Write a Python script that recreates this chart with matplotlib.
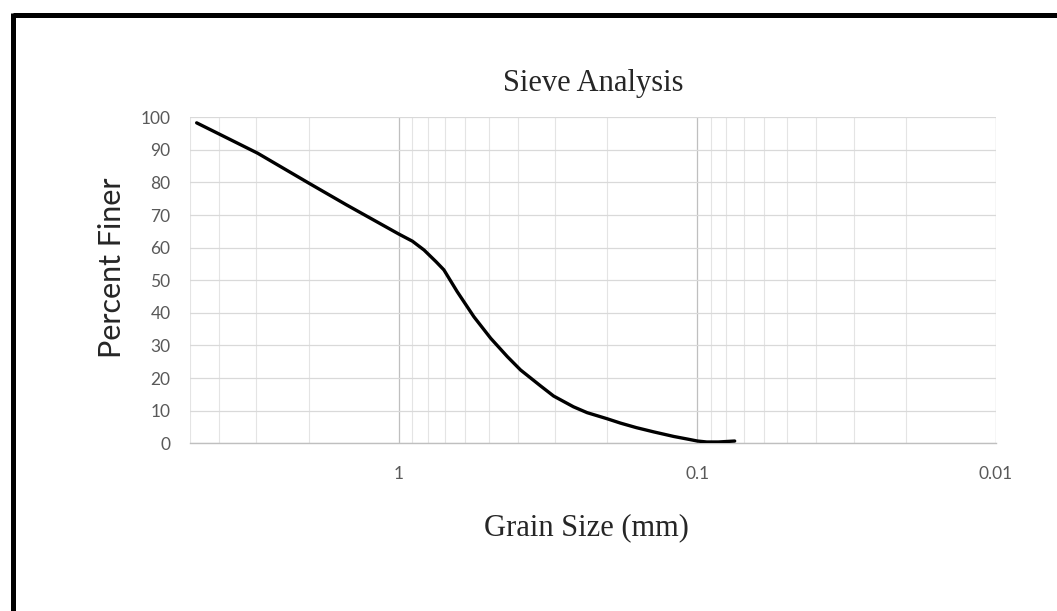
import matplotlib
matplotlib.use("Agg")
import matplotlib.pyplot as plt
from matplotlib.lines import Line2D
from matplotlib.ticker import LogLocator, FixedLocator, NullFormatter

# grain size (mm) and percent finer
grain_size = [4.75, 4.0, 2.97, 2.0, 1.5, 1.0, 0.9, 0.823, 0.75, 0.706, 0.637,
              0.56, 0.492, 0.433, 0.391, 0.335, 0.303, 0.26, 0.234, 0.2, 0.181,
              0.16, 0.140, 0.12, 0.108, 0.1, 0.093, 0.085, 0.075]
percent_finer = [98.3, 94.9, 89.0, 79.8, 73.2, 64.2, 62.0, 59.3, 55.7, 53.2, 46.5,
                 38.8, 32.2, 26.6, 22.5, 17.6, 14.5, 11.2, 9.4, 7.5, 6.2,
                 4.8, 3.5, 2.1, 1.3, 0.7, 0.4, 0.4, 0.7]

x_ticks = [1, 0.1, 0.01]
x_tick_labels = ["1", "0.1", "0.01"]
y_ticks = list(range(0, 101, 10))

W, H = 1057, 611
fig = plt.figure(figsize=(W / 100, H / 100), dpi=100)
fig.patch.set_facecolor("white")

ax = fig.add_axes([190 / W, 1 - 443.3 / H, 806 / W, 326 / H])
ax.plot(grain_size, percent_finer, color="black", lw=2.4,
        solid_capstyle="round", solid_joinstyle="round", zorder=3)

ax.set_xscale("log")
ax.set_xlim(5, 0.01)
ax.set_ylim(0, 100)

ax.xaxis.set_major_locator(FixedLocator(x_ticks))
ax.set_xticks(x_ticks)
ax.set_xticklabels(x_tick_labels)
ax.xaxis.set_minor_locator(LogLocator(base=10, subs=range(2, 10), numticks=20))
ax.xaxis.set_minor_formatter(NullFormatter())
ax.set_yticks(y_ticks)

ax.grid(which="major", axis="x", color="#bfbfbf", lw=0.9)
ax.grid(which="minor", axis="x", color="#e4e4e4", lw=0.8)
ax.grid(which="major", axis="y", color="#d9d9d9", lw=0.9)
ax.set_axisbelow(True)

for side in ["top", "right", "left"]:
    ax.spines[side].set_visible(False)
ax.spines["bottom"].set_color("#bfbfbf")
ax.spines["bottom"].set_linewidth(1.0)

ax.tick_params(which="both", length=0, colors="#595959", labelsize=12.5)
ax.tick_params(axis="y", pad=14)
ax.tick_params(axis="x", pad=16)
for lab in ax.get_xticklabels() + ax.get_yticklabels():
    lab.set_fontfamily("Lato")

ax.set_title("Sieve Analysis", fontfamily="Liberation Serif", fontsize=22,
             color="#262626", pad=19)
ax.set_xlabel("Grain Size (mm)", fontfamily="Liberation Serif", fontsize=22,
              color="#262626")
ax.xaxis.set_label_coords((586 - 190) / 806, -(513 - 443.3) / 326)
ax.set_ylabel("Percent Finer", fontfamily="Lato", fontsize=22, color="#262626")
ax.yaxis.set_label_coords(-(190 - 126) / 806, (443.3 - 268) / 326)

# black frame along the top and left of the sheet
fig.add_artist(Line2D([12.5 / W, 1], [1 - 15 / H, 1 - 15 / H], color="black",
                      lw=3.6, transform=fig.transFigure, solid_capstyle="butt"))
fig.add_artist(Line2D([12.5 / W, 12.5 / W], [1 - 12.5 / H, 0], color="black",
                      lw=3.6, transform=fig.transFigure, solid_capstyle="butt"))

fig.savefig("out.png", dpi=100, facecolor="white")
